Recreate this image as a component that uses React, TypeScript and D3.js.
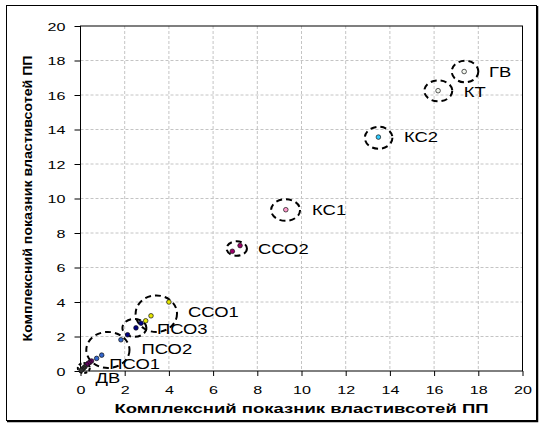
import React, { useEffect, useRef } from 'react';
import * as d3 from 'd3';

// groups of the scatter, each one is marked by a dashed ring and a label
const groupNames = ['ГВ', 'КТ', 'КС2', 'КС1', 'ССО2', 'ССО1', 'ПСО3', 'ПСО2', 'ПСО1', 'ДВ'];
const groupColors = ['#f2f6ee', '#f2f6ee', '#33ccff', '#ff99cc', '#990066', '#e6e600', '#000080', '#3366cc', '#660066', '#333333'];
// ring centres (data units)
const ringX = [17.4, 16.19, 13.49, 9.28, 7.07, 3.43, 2.44, 1.24, 0.4, 0.15];
const ringY = [17.36, 16.24, 13.52, 9.33, 7.1, 3.32, 2.5, 1.22, 0.48, 0.17];

// the points themselves: group index, x, y
const pointGroup = [0, 1, 2, 3, 4, 4, 5, 5, 5, 6, 6, 6, 7, 7, 7, 8, 8, 8, 8, 9, 9, 9, 9];
const pointX = [17.36, 16.18, 13.48, 9.29, 7.22, 6.87, 4.0, 3.19, 2.95, 2.74, 2.51, 2.13, 1.83, 0.96, 0.73, 0.5, 0.42, 0.35, 0.28, 0.2, 0.14, 0.08, 0.03];
const pointY = [17.36, 16.25, 13.56, 9.35, 7.27, 6.94, 4.0, 3.2, 2.91, 2.77, 2.5, 2.1, 1.81, 0.92, 0.73, 0.58, 0.5, 0.45, 0.36, 0.25, 0.17, 0.1, 0.04];

const ticks = [0, 2, 4, 6, 8, 10, 12, 14, 16, 18, 20];

// ring sizes and label offsets in pixels (layout only)
const ringRx = [13.3, 14, 13.8, 14.5, 10.2, 20.7, 12, 21.6, 0, 6];
const ringRy = [10.8, 10.5, 11, 10.8, 7.2, 18.3, 9, 18, 0, 5];
const labelDx = [24, 25.5, 25.4, 26.5, 21.2, 31.7, 22.5, 33.6, 20, 11.6];
const labelDy = [5.2, 6.4, 4.6, 5, 5.8, 3, 6.3, 3.8, 6.6, 15];

const Chart = () => {
  const svgRef = useRef<SVGSVGElement>(null);

  useEffect(() => {
    const svg = d3.select(svgRef.current);
    svg.selectAll('*').remove();

    const width = 542;
    const height = 425;
    const left = 80.5, right = 522.5, top = 26, bottom = 371;
    const font = "'Liberation Sans', Arial, sans-serif";

    svg.attr('width', width).attr('height', height);

    // outer frame with a heavier right/bottom edge
    svg.append('rect').attr('x', 6.5).attr('y', 5.5).attr('width', 530).attr('height', 415)
      .attr('fill', '#fff').attr('stroke', '#000');
    svg.append('path').attr('d', 'M537.5,6V421.5H7').attr('fill', 'none').attr('stroke', '#000').attr('stroke-width', 1.5);

    const x = d3.scaleLinear().domain([0, 20]).range([left, right]);
    const y = d3.scaleLinear().domain([0, 20]).range([bottom, top]);

    // grid
    const grid = svg.append('g').attr('stroke', '#c4c4c4').attr('stroke-dasharray', '3,2');
    grid.selectAll('.gx').data(ticks.slice(1, -1)).enter().append('line')
      .attr('x1', (d) => x(d)).attr('x2', (d) => x(d)).attr('y1', top).attr('y2', bottom);
    grid.selectAll('.gy').data(ticks.slice(1, -1)).enter().append('line')
      .attr('y1', (d) => y(d)).attr('y2', (d) => y(d)).attr('x1', left).attr('x2', right);

    // plot border
    svg.append('rect').attr('x', left).attr('y', top).attr('width', right - left).attr('height', bottom - top)
      .attr('fill', 'none').attr('stroke', '#000');

    // axes (labels stretched sideways like the original export)
    const xAxis = svg.append('g').attr('transform', `translate(0,${bottom})`)
      .call(d3.axisBottom(x).tickValues(ticks).tickSize(5).tickFormat(d3.format('d')));
    xAxis.select('.domain').remove();
    xAxis.selectAll('text').attr('font-size', 11.5).attr('font-family', font).attr('dy', 0)
      .attr('y', 23.5).attr('transform', 'scale(1.4,1)');

    const yAxis = svg.append('g').attr('transform', `translate(${left},0)`)
      .call(d3.axisLeft(y).tickValues(ticks).tickSize(6).tickFormat(d3.format('d')));
    yAxis.select('.domain').remove();
    yAxis.selectAll('text').attr('font-size', 11.5).attr('font-family', font)
      .attr('x', 0).attr('dy', '0.35em').attr('transform', 'translate(-15,0) scale(1.4,1)');

    // dashed rings
    svg.selectAll('.ring').data(groupNames.map((n, i) => i).filter((i) => ringRx[i] > 0)).enter().append('ellipse')
      .attr('cx', (i) => x(ringX[i])).attr('cy', (i) => y(ringY[i]))
      .attr('rx', (i) => ringRx[i]).attr('ry', (i) => ringRy[i])
      .attr('fill', 'none').attr('stroke', '#000').attr('stroke-width', 2)
      .attr('stroke-dasharray', (i) => (ringRx[i] < 8 ? '3,2' : '6,4'));

    // points
    svg.selectAll('.pt').data(pointX.map((d, i) => i)).enter().append('circle')
      .attr('cx', (i) => x(pointX[i])).attr('cy', (i) => y(pointY[i])).attr('r', 2.3)
      .attr('fill', (i) => groupColors[pointGroup[i]]).attr('stroke', '#111').attr('stroke-width', 0.7);

    // labels
    svg.selectAll('.lbl').data(groupNames.map((n, i) => i)).enter().append('text')
      .attr('transform', (i) => `translate(${x(ringX[i]) + labelDx[i]},${y(ringY[i]) + labelDy[i]}) scale(1.27,1)`)
      .attr('font-size', 14.5).attr('font-family', font).attr('fill', '#000')
      .text((i) => groupNames[i]);

    // axis titles
    svg.append('text').attr('x', (left + right) / 2).attr('y', 412.5).attr('text-anchor', 'middle')
      .attr('font-size', 12).attr('font-weight', 'bold').attr('font-family', font)
      .attr('textLength', 374).attr('lengthAdjust', 'spacingAndGlyphs')
      .text('Комплексний показник властивсотей ПП');
    svg.append('text').attr('transform', `translate(32,${(top + bottom) / 2}) rotate(-90)`).attr('text-anchor', 'middle')
      .attr('font-size', 13).attr('font-weight', 'bold').attr('font-family', font)
      .attr('textLength', 286).attr('lengthAdjust', 'spacingAndGlyphs')
      .text('Комплексний показник властивсотей ПП');
  }, []);

  return <svg ref={svgRef} style={{ position: 'absolute', left: 0, top: 0 }}></svg>;
};

export default function App() {
  return <Chart />;
}
